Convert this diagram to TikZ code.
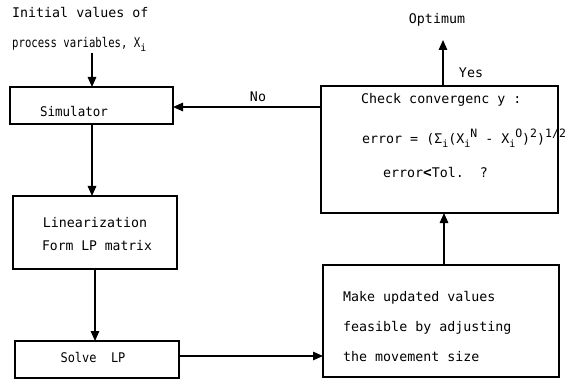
\documentclass[tikz,border=0pt]{standalone}
\usepackage{fontspec}
\usepackage{graphicx}
\setmonofont{DejaVu Sans Mono}
\usetikzlibrary{arrows.meta}
% subscript i and raised exponents in the formula text
\newcommand{\sbi}{\raisebox{-4pt}{\fontsize{10}{10}\selectfont i}}
\newcommand{\spx}[1]{\raisebox{6pt}{\fontsize{11.5}{11.5}\selectfont #1}}
\begin{document}
\begin{tikzpicture}[x=1pt,y=-1pt,
  every node/.style={font=\ttfamily\fontsize{13.3}{15}\selectfont, inner sep=0pt},
  box/.style={draw, line width=1.3pt},
  lbl/.style={anchor=west},
  flow/.style={line width=1.4pt, -{Triangle[length=10pt,width=8.5pt]}}]
\useasboundingbox (0,0) rectangle (577,379);

% boxes
\draw[box] (10,87) rectangle (173,124);
\draw[box] (13,196) rectangle (177,269);
\draw[box] (15,341) rectangle (179,378);
\draw[box] (321,86) rectangle (558,213);
\draw[box] (323,265) rectangle (559,377);

% named points on the box edges
\coordinate (inittop) at (92,53);
\coordinate (simN) at (92,87);
\coordinate (simS) at (92,124);
\coordinate (simE) at (173,107);
\coordinate (linN) at (92,196);
\coordinate (linS) at (95,269);
\coordinate (slvN) at (95,341);
\coordinate (slvE) at (179,356);
\coordinate (mkW) at (323,356);
\coordinate (mkN) at (444,265);
\coordinate (ckS) at (444,213);
\coordinate (ckN) at (443,86);
\coordinate (ckW) at (321,107);
\coordinate (opt) at (443,40);

% texts
\node[lbl] (t1) at (12,13) {Initial values of};
\node[lbl] (t2) at (12,44) {\scalebox{0.8}[1]{process variables, X}\sbi};
\node (sim) at (74,112) {\scalebox{0.94}[1]{Simulator}};
\node (lin1) at (95,223) {Linearization};
\node (lin2) at (97,246) {\scalebox{0.98}[1]{Form LP matrix}};
\node (slv) at (93,358) {\scalebox{0.9}[1]{Solve\ \ LP}};
\node (optimum) at (437,20) {Optimum};
\node (yes) at (471,73) {Yes};
\node (no) at (258,97) {No};
\node[lbl] (c1) at (361,100) {Check convergenc y :};
\node[lbl] (c2) at (362,138) {error = (Σ\sbi(X\sbi\spx{N} - X\sbi\spx{O})\spx{2})\spx{1/2}};
\node[lbl] (c3) at (383,173) {error{\Large\bfseries <}Tol.\ \ ?};
\node[lbl] (m1) at (343,298) {Make updated values};
\node[lbl] (m2) at (343,328) {feasible by adjusting};
\node[lbl] (m3) at (343,357) {the movement size};

% connectors
\draw[flow] (inittop) -- (simN);
\draw[flow] (simS) -- (linN);
\draw[flow] (linS) -- (slvN);
\draw[flow] (slvE) -- (mkW);
\draw[flow] (mkN) -- (ckS);
\draw[flow] (ckN) -- (opt);
\draw[flow] (ckW) -- (simE);
\end{tikzpicture}
\end{document}
